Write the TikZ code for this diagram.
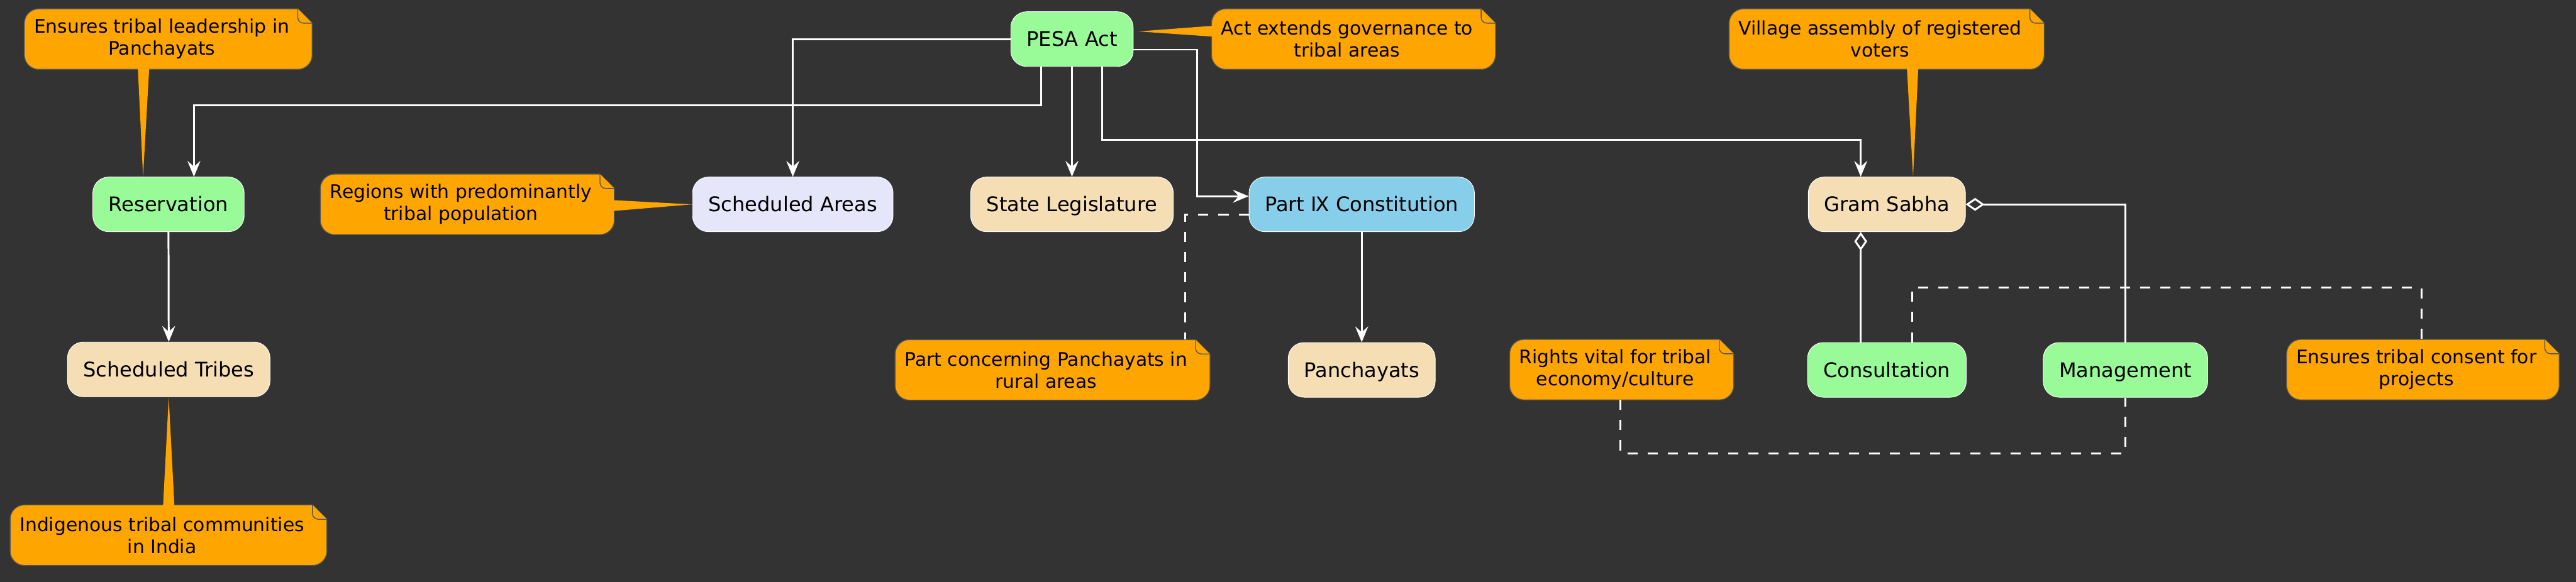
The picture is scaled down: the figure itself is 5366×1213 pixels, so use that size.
\documentclass[tikz,border=0pt]{standalone}
\usepackage{fontspec}
\setmainfont{DejaVu Sans}
\usetikzlibrary{arrows.meta,calc,backgrounds}
\definecolor{bgdark}{HTML}{333333}
\definecolor{noteorange}{HTML}{FFA500}
\definecolor{noteedge}{HTML}{555555}
\definecolor{palegreen}{HTML}{98FB98}
\definecolor{lavender}{HTML}{E6E6FA}
\definecolor{wheat}{HTML}{F5DEB3}
\definecolor{skyblue}{HTML}{87CEEB}
\tikzset{
  entity/.style={draw=white, line width=0.4pt, rounded corners=11pt,
    minimum height=38pt, inner xsep=11pt, inner ysep=0pt,
    text height=10.2pt, text depth=0pt, font=\fontsize{14}{16}\selectfont},
  notetext/.style={align=center, inner xsep=6.5pt, inner ysep=0pt,
    minimum height=41.7pt, font=\fontsize{13}{15.3}\selectfont},
  notebody/.style={fill=noteorange, draw=noteedge, line width=0.6pt},
  flow/.style={draw=white, line width=1.3pt, -{Stealth[length=11pt,width=9pt,inset=4pt]}},
  member/.style={draw=white, line width=1.3pt, {Diamond[open,fill=bgdark,length=13pt,width=9pt]}-},
  notelink/.style={draw=white, line width=1.3pt, dash pattern=on 7pt off 7pt},
}
% folded note drawn round a text node
\newcommand\notebody[1]{%
  \draw[notebody] ([xshift=-1pt]#1.north east) -- ([xshift=10pt]#1.north west)
    arc[start angle=90,end angle=180,radius=10pt] -- ([yshift=10pt]#1.south west)
    arc[start angle=180,end angle=270,radius=10pt] -- ([xshift=-1pt]#1.south east)
    arc[start angle=270,end angle=360,radius=10pt] -- ([xshift=9pt,yshift=-10pt]#1.north east) -- cycle;
  \draw[notebody,rounded corners=4pt] ([xshift=-1pt]#1.north east) |- ([xshift=9pt,yshift=-10pt]#1.north east);}
\begin{document}
\begin{tikzpicture}[x=0.3333pt,y=-0.3333pt]
  \useasboundingbox (0,0) rectangle (5366,1213);
  % Entities
  \node[entity, fill=palegreen] (pesa) at (2233,81.5) {PESA Act};
  \node[entity, fill=palegreen] (reserv) at (351,426) {Reservation};
  \node[entity, fill=lavender] (sareas) at (1651.5,426) {Scheduled Areas};
  \node[entity, fill=wheat] (statel) at (2233,426) {State Legislature};
  \node[entity, fill=skyblue] (part9) at (2836.5,426) {Part Ⅸ Constitution};
  \node[entity, fill=wheat] (gram) at (3930.5,426) {Gram Sabha};
  \node[entity, fill=wheat] (stribes) at (351.5,770) {Scheduled Tribes};
  \node[entity, fill=wheat] (panch) at (2836.5,771) {Panchayats};
  \node[entity, fill=palegreen] (consult) at (3930.5,771) {Consultation};
  \node[entity, fill=palegreen] (manage) at (4427.5,771) {Management};
  % Notes
  \node[notetext] (n1) at (337,81.5) {Ensures tribal leadership in\\Panchayats};
  \node[notetext] (n2) at (2806,81.5) {Act extends governance to\\tribal areas};
  \node[notetext] (n3) at (3916.5,81.5) {Village assembly of registered\\voters};
  \node[notetext] (n4) at (960,426) {Regions with predominantly\\tribal population};
  \node[notetext] (n5) at (337.5,1115.5) {Indigenous tribal communities\\in India};
  \node[notetext] (n6) at (2179,771) {Part concerning Panchayats in\\rural areas};
  \node[notetext] (n7) at (3364.5,770.5) {Rights vital for tribal\\economy/culture};
  \node[notetext] (n8) at (5033.5,770.5) {Ensures tribal consent for\\projects};
  \begin{scope}[on background layer]
    \fill[bgdark] (0,0) rectangle (5366,1213);
    \foreach \n in {n1,n2,n3,n4,n5,n6,n7,n8} {\notebody{\n}}
  \end{scope}
  % Note pointers
  \fill[noteorange] ($(n1.south)+(-50,-6)$) -- ($(reserv.north)+(-53,0)$) -- ($(n1.south)+(-26,-6)$) -- cycle;
  \fill[noteorange] ($(n2.west)+(6,-28)$) -- ($(pesa.east)+(10,-16)$) -- ($(n2.west)+(6,-5)$) -- cycle;
  \fill[noteorange] ($(n3.south)+(55.5,-6)$) -- ($(gram.north)+(54.5,0)$) -- ($(n3.south)+(79.5,-6)$) -- cycle;
  \fill[noteorange] ($(n4.east)+(21,-9)$) -- (sareas.west) -- ($(n4.east)+(21,14)$) -- cycle;
  \fill[noteorange] ($(n5.north)+(2,6)$) -- (stribes.south) -- ($(n5.north)+(26,6)$) -- cycle;
  % Edges
  \draw[flow] ($(pesa.south)+(-64,0)$) -- ++(0,80) -| ($(reserv.north)+(53,0)$);
  \draw[flow] (pesa.west) -| (sareas.north);
  \draw[flow] (pesa.south) -- (statel.north);
  \draw[flow] ($(pesa.south)+(63,0)$) -- ++(0,153) -| ($(gram.north)+(-54.5,0)$);
  \draw[flow] ($(pesa.east)+(0,22)$) -- ++(133,0) |- ($(part9.west)+(0,-17)$);
  \draw[flow] (part9.south) -- (panch.north);
  \draw[flow] (reserv.south) -- (stribes.north);
  \draw[member] ($(gram.south)+(-54.5,0)$) -- ($(consult.north)+(-54.5,0)$);
  \draw[member] (gram.east) -| (manage.north);
  % Note links
  \draw[notelink] ([yshift=-7pt]part9.west) -| ($(n6.north)+(290,0)$);
  \draw[notelink] ($(consult.north)+(53,0)$) -- ++(0,-114) -| ($(n8.north)+(10.5,0)$);
  \draw[notelink] ($(n7.south)+(10.5,0)$) -- ++(0,111) -| (manage.south);
\end{tikzpicture}
\end{document}
